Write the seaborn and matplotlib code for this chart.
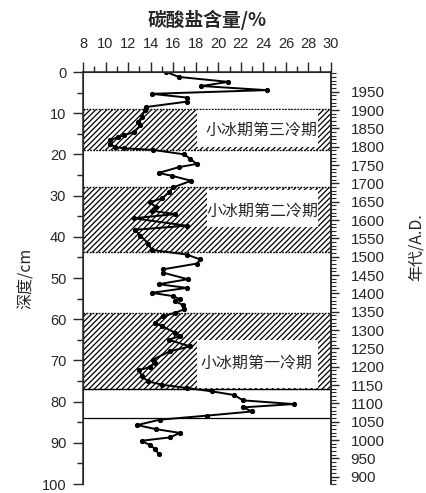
import numpy as np
import pandas as pd
import seaborn as sns
import matplotlib.pyplot as plt
from matplotlib.patches import Rectangle
from matplotlib.ticker import MultipleLocator

# carbonate content (%), by depth (cm)
depth = [0.0, 1.2, 2.4, 3.4, 4.4, 5.3, 6.2, 7.2, 8.5, 9.3, 10.9, 12.1, 12.9, 14.6,
         15.4, 15.8, 16.6, 17.4, 18.2, 18.5, 18.9, 20.0, 21.1, 22.3, 23.1, 24.5,
         25.2, 26.4, 28.0, 29.2, 30.7, 31.6, 32.8, 33.7, 34.5, 35.5, 37.3, 38.3,
         39.7, 41.7, 43.2, 44.3, 45.5, 46.5, 47.9, 48.7, 50.3, 51.5, 52.4, 53.6,
         54.4, 55.2, 55.7, 56.6, 57.6, 58.4, 59.3, 60.9, 61.7, 63.3, 64.1, 65.0,
         66.6, 67.8, 69.8, 70.6, 71.6, 72.4, 73.9, 75.1, 75.9, 76.7, 77.5, 78.4,
         79.7, 80.6, 81.4, 82.4, 83.4, 84.4, 85.7, 86.7, 87.6, 88.7, 89.5, 90.5,
         91.5, 92.7]
carbonate = [15.4, 16.5, 20.9, 18.5, 24.3, 14.1, 17.2, 17.2, 13.6, 13.5, 13.2, 12.9,
             13.1, 12.5, 11.6, 11.1, 10.4, 10.4, 10.8, 11.6, 14.2, 17.0, 17.5, 18.1,
             16.5, 14.7, 15.9, 17.6, 16.0, 15.6, 15.0, 13.9, 14.5, 14.1, 16.2, 12.5,
             17.2, 12.6, 13.1, 13.8, 14.1, 17.2, 18.4, 18.1, 15.1, 15.1, 17.3, 14.7,
             17.2, 14.1, 16.0, 16.6, 16.2, 16.9, 17.0, 16.2, 15.1, 14.4, 15.0, 16.2,
             16.6, 15.6, 17.5, 15.7, 14.2, 14.4, 13.9, 13.0, 13.2, 13.8, 15.0, 17.2,
             19.4, 21.4, 22.2, 26.7, 22.2, 23.0, 19.0, 14.8, 12.8, 14.5, 16.6, 15.7,
             13.2, 13.9, 14.4, 14.7]

# cold periods of the Little Ice Age (depth ranges, cm)
band_top = [9, 28, 58.5]
band_bottom = [19, 43.6, 76.9]
band_names = ["小冰期第三冷期", "小冰期第二冷期", "小冰期第一冷期"]
boundary_line = 84

year_ticks = list(range(900, 2000, 50))

df = pd.DataFrame({"depth": depth, "carbonate": carbonate})

sns.set_style("ticks")
plt.rcParams["font.family"] = ["Liberation Sans", "Noto Sans CJK SC"]
plt.rcParams["hatch.linewidth"] = 0.9
cjk = ["Noto Sans CJK SC", "DejaVu Sans"]

fig = plt.figure(figsize=(4.26, 4.93), dpi=100)
ax = fig.add_axes([83 / 426, 9 / 493, 248 / 426, 412 / 493])

for top, bot in zip(band_top, band_bottom):
    ax.axhspan(top, bot, facecolor="white", edgecolor="black", hatch="//////",
               linewidth=1.0, linestyle=(0, (1.2, 1.0)), zorder=1)
ax.axhline(band_bottom[2], color="black", lw=0.9, zorder=2)
ax.axhline(boundary_line, color="black", lw=0.9, zorder=2)

# white label boxes over the hatching
boxes = [(18.1, 9.3, 28.85, 18.2), (19.0, 28.7, 28.85, 37.5), (18.1, 65.0, 28.85, 76.6)]
label_pos = [(23.8, 14.2), (23.9, 33.9), (23.4, 70.6)]
for (x0, y0, x1, y1), (tx, ty), name in zip(boxes, label_pos, band_names):
    ax.add_patch(Rectangle((x0, y0), x1 - x0, y1 - y0, facecolor="white",
                           edgecolor="none", zorder=2))
    ax.text(tx, ty, name, ha="center", va="center", fontsize=11.5, family=cjk,
            fontweight="medium", zorder=3)

sns.lineplot(data=df, x="carbonate", y="depth", sort=False, estimator=None,
             color="black", lw=1.4, marker="o", markersize=3,
             markeredgecolor="black", ax=ax, zorder=4)

ax.set_xlim(8, 30)
ax.set_ylim(100, 0)
ax.xaxis.tick_top()
ax.xaxis.set_label_position("top")
ax.set_xticks(range(8, 31, 2))
ax.xaxis.set_minor_locator(MultipleLocator(1))
ax.set_yticks(range(0, 101, 10))
ax.yaxis.set_minor_locator(MultipleLocator(5))
ax.tick_params(axis="x", which="major", direction="out", length=7, width=1,
               labelsize=10.5, pad=8)
ax.tick_params(axis="x", which="minor", direction="out", length=4, width=1)
ax.tick_params(axis="y", which="major", direction="out", length=7, width=1,
               labelsize=10.5, pad=5)
ax.tick_params(axis="y", which="minor", direction="out", length=4, width=1)
ax.set_xlabel("碳酸盐含量/%", fontsize=13.5, fontweight="bold", family=cjk,
              labelpad=8)
ax.set_ylabel("深度/cm", fontsize=11.5, family=cjk, labelpad=5)
ax.spines["bottom"].set_visible(False)
for s in ["top", "left", "right"]:
    ax.spines[s].set_linewidth(1.1)

ax2 = ax.twinx()
ax2.set_ylim(880, 2003.7)
ax2.set_yticks(year_ticks)
ax2.yaxis.set_minor_locator(MultipleLocator(10))
ax2.tick_params(axis="y", which="major", direction="out", length=6, width=1,
                labelsize=11, pad=8)
ax2.tick_params(axis="y", which="minor", direction="out", length=3.5, width=0.8)
ax2.spines["bottom"].set_visible(False)
ax2.spines["right"].set_linewidth(1.1)
ax2.set_ylabel("年代/A.D.", fontsize=11.5, family=cjk, rotation=90)
ax2.yaxis.set_label_coords(1.31, 0.575)

plt.savefig("out.png", dpi=100)
